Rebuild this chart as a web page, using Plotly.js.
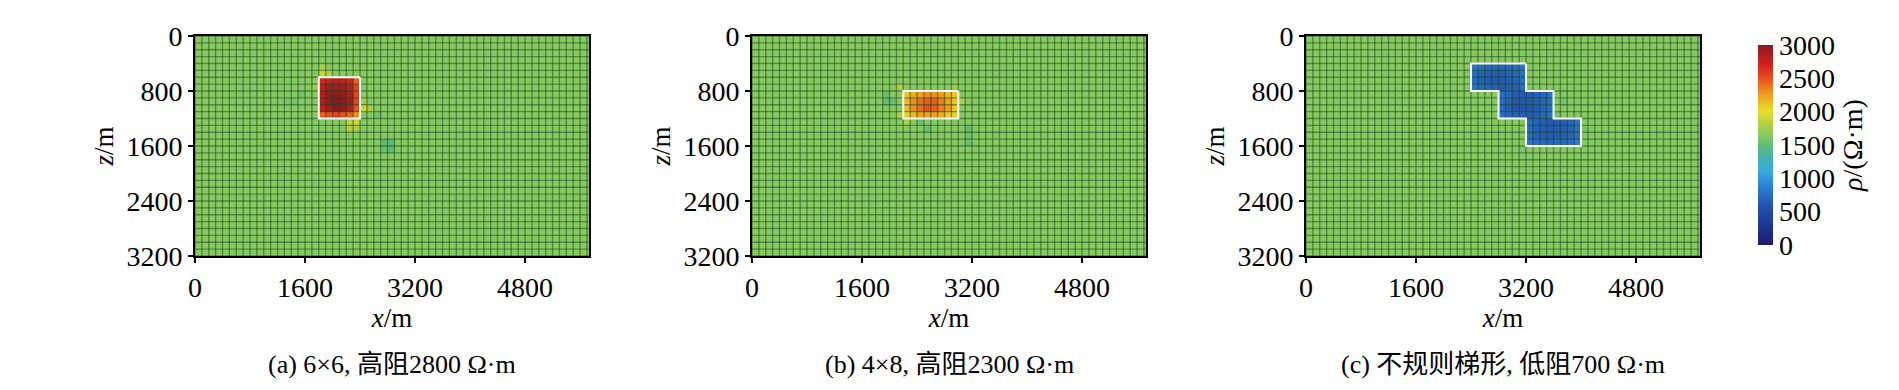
<!DOCTYPE html>
<html>
<head>
<meta charset="utf-8">
<script src="https://cdn.plot.ly/plotly-3.0.1.min.js"></script>
<style>html,body{margin:0;padding:0;background:#fff;}#chart{width:1899px;height:390px;}</style>
</head>
<body>
<div id="chart"></div>
<script>
// ---------------- data ----------------
const xTicks = [0, 1600, 3200, 4800];
const zTicks = [0, 800, 1600, 2400, 3200];
const cbTicks = [0, 500, 1000, 1500, 2000, 2500, 3000];
const captions = ["(a) 6×6, 高阻2800 Ω·m", "(b) 4×8, 高阻2300 Ω·m", "(c) 不规则梯形, 低阻700 Ω·m"];

// background resistivity of each inverted model (Ω·m)
const background = [1650, 1650, 1650];

// (a) high-resistivity block 6×6 cells: top z = 600 m, row starts at x = 1800 m
const blockA_rowZ = [600, 700, 800, 900, 1000, 1100];
const blockA_rowX = [1800, 1800, 1800, 1800, 1800, 1800];
const blockA_vals = [
  [2700, 2750, 2800, 2750, 2700, 2450],
  [2800, 2900, 2900, 2900, 2800, 2550],
  [2850, 2950, 3000, 2950, 2850, 2550],
  [2850, 2950, 3000, 3000, 2900, 2550],
  [2800, 2900, 3000, 2950, 2850, 2500],
  [2450, 2500, 2550, 2500, 2450, 2300]
];
// (b) high-resistivity block 4×8 cells
const blockB_rowZ = [800, 900, 1000, 1100];
const blockB_rowX = [2200, 2200, 2200, 2200];
const blockB_vals = [
  [2100, 2200, 2250, 2300, 2300, 2250, 2150, 2100],
  [2150, 2300, 2400, 2450, 2450, 2350, 2250, 2100],
  [2150, 2300, 2400, 2500, 2450, 2350, 2250, 2100],
  [2050, 2150, 2250, 2250, 2250, 2200, 2100, 2050]
];
// (c) low-resistivity irregular staircase body
const blockC_rowZ = [400, 500, 600, 700, 800, 900, 1000, 1100, 1200, 1300, 1400, 1500];
const blockC_rowX = [2400, 2400, 2400, 2400, 2800, 2800, 2800, 2800, 3200, 3200, 3200, 3200];
const blockC_vals = [
  [800, 750, 720, 700, 700, 720, 750, 800],
  [750, 680, 650, 640, 650, 680, 700, 760],
  [740, 670, 640, 630, 640, 660, 690, 750],
  [780, 720, 700, 680, 650, 660, 700, 760],
  [760, 700, 660, 640, 640, 660, 700, 780],
  [740, 660, 620, 610, 620, 650, 690, 760],
  [740, 660, 620, 610, 630, 660, 700, 760],
  [780, 720, 680, 660, 650, 660, 700, 780],
  [760, 700, 670, 650, 650, 670, 700, 780],
  [740, 670, 640, 630, 630, 650, 690, 760],
  [740, 680, 650, 640, 640, 660, 700, 770],
  [800, 760, 730, 720, 720, 730, 760, 820]
];
// small deviations of the background around the bodies: cell x, cell z, value
const haloA_x = [1800, 1800, 1900, 2200, 2300, 2200, 2300, 2400, 2500, 2400, 1700, 2700, 2800, 2800, 2700, 1500, 1400, 2600, 1300];
const haloA_z = [400, 500, 500, 1200, 1200, 1300, 1300, 1000, 1000, 900, 700, 1500, 1500, 1600, 1600, 800, 900, 1100, 900];
const haloA_v = [1800, 1900, 1800, 1850, 1900, 1800, 1780, 1900, 1780, 1780, 1730, 1500, 1480, 1500, 1540, 1580, 1580, 1580, 1600];
const haloB_x = [2100, 2100, 3000, 1900, 1900, 2000, 2400, 2500, 3100, 3100, 3100, 2200, 2900];
const haloB_z = [700, 1100, 900, 800, 900, 900, 1200, 1300, 1300, 1400, 1500, 1200, 700];
const haloB_v = [1800, 1780, 1780, 1540, 1500, 1540, 1540, 1540, 1500, 1540, 1540, 1780, 1730];
const haloC_x = [3700, 3600, 2300, 4000, 3100];
const haloC_z = [900, 1100, 500, 1300, 1600];
const haloC_v = [1580, 1580, 1610, 1600, 1600];

// ---------------- construction ----------------
const CELL = 100, NX = 58, NZ = 32;
const xEdges = [], zEdges = [];
for (let i = 0; i <= NX; i++) xEdges.push(i * CELL);
for (let j = 0; j <= NZ; j++) zEdges.push(j * CELL);

function buildZ(bg, rowZ, rowX, vals, hx, hz, hv) {
  const z = [];
  for (let j = 0; j < NZ; j++) { const r = []; for (let i = 0; i < NX; i++) r.push(bg); z.push(r); }
  for (let k = 0; k < hx.length; k++) z[hz[k] / CELL][hx[k] / CELL] = hv[k];
  for (let r = 0; r < rowZ.length; r++) {
    for (let c = 0; c < vals[r].length; c++) z[rowZ[r] / CELL][rowX[r] / CELL + c] = vals[r][c];
  }
  return z;
}
function outline(rowZ, rowX, vals) {
  const xs = [], ys = [];
  for (let r = 0; r < rowZ.length; r++) {
    const x1 = rowX[r] + vals[r].length * CELL;
    xs.push(x1, x1); ys.push(rowZ[r], rowZ[r] + CELL);
  }
  for (let r = rowZ.length - 1; r >= 0; r--) {
    xs.push(rowX[r], rowX[r]); ys.push(rowZ[r] + CELL, rowZ[r]);
  }
  xs.push(xs[0]); ys.push(ys[0]);
  return {x: xs, y: ys};
}
function gridLines() {
  const xs = [], ys = [];
  for (const e of xEdges) { xs.push(e, e, null); ys.push(0, 3200, null); }
  for (const e of zEdges) { xs.push(0, 5800, null); ys.push(e, e, null); }
  return {x: xs, y: ys};
}

const colorscale = [
  [0.00, '#1c1c6a'], [0.10, '#1f3792'], [0.20, '#2453b0'], [0.30, '#2a86d6'],
  [0.37, '#38aae0'], [0.45, '#4ab4a2'], [0.50, '#62bc74'], [0.55, '#88ca62'], [0.60, '#aed044'],
  [0.67, '#e6dc2a'], [0.75, '#f0a020'], [0.83, '#e8521e'], [0.90, '#d2221e'], [1.00, '#8a1a1e']
];

const panels = [
  {rz: blockA_rowZ, rx: blockA_rowX, v: blockA_vals, hx: haloA_x, hz: haloA_z, hv: haloA_v},
  {rz: blockB_rowZ, rx: blockB_rowX, v: blockB_vals, hx: haloB_x, hz: haloB_z, hv: haloB_v},
  {rz: blockC_rowZ, rx: blockC_rowX, v: blockC_vals, hx: haloC_x, hz: haloC_z, hv: haloC_v}
];
const W = 1899, H = 390;
const xDomains = [[195 / W, 589 / W], [752 / W, 1146 / W], [1306 / W, 1700 / W]];
const yDomain = [1 - 256 / H, 1 - 36 / H];
const FONT = 'Liberation Serif, Times New Roman, serif';
const CJKFONT = 'Liberation Serif, Noto Sans CJK SC, serif';

const traces = [];
const layout = {
  width: W, height: H, margin: {l: 0, r: 0, t: 0, b: 0},
  paper_bgcolor: '#fff', plot_bgcolor: '#fff', showlegend: false,
  font: {family: FONT, size: 28, color: '#000'}, annotations: []
};
const g = gridLines();
panels.forEach((p, k) => {
  const xa = k === 0 ? 'x' : 'x' + (k + 1), ya = k === 0 ? 'y' : 'y' + (k + 1);
  const hm = {
    type: 'heatmap', x: xEdges, y: zEdges, z: buildZ(background[k], p.rz, p.rx, p.v, p.hx, p.hz, p.hv),
    zmin: 0, zmax: 3000, colorscale: colorscale, xaxis: xa, yaxis: ya, showscale: k === 0, hoverinfo: 'skip'
  };
  if (k === 0) {
    hm.colorbar = {
      x: 1758 / W, xanchor: 'left', y: 1 - 145 / H, yanchor: 'middle', len: 200, lenmode: 'pixels',
      thickness: 15, xpad: 0, ypad: 0, outlinewidth: 0, ticks: '', tickvals: cbTicks,
      tickfont: {family: FONT, size: 28}, title: {text: '<i>ρ</i>/(Ω·m)', side: 'right', font: {family: FONT, size: 28}}
    };
  }
  traces.push(hm);
  traces.push({type: 'scatter', mode: 'lines', x: g.x, y: g.y, xaxis: xa, yaxis: ya, hoverinfo: 'skip',
    line: {color: 'rgba(25,70,25,0.5)', width: 1.4}});
  const o = outline(p.rz, p.rx, p.v);
  traces.push({type: 'scatter', mode: 'lines', x: o.x, y: o.y, xaxis: xa, yaxis: ya, hoverinfo: 'skip',
    line: {color: '#ffffff', width: 2}});
  const axCommon = {showline: true, mirror: true, linewidth: 2, linecolor: '#000', ticks: 'outside', ticklen: 5,
    tickwidth: 2, tickcolor: '#000', showgrid: false, zeroline: false, tickfont: {family: FONT, size: 28}};
  layout['xaxis' + (k === 0 ? '' : k + 1)] = Object.assign({}, axCommon, {
    domain: xDomains[k], anchor: ya, range: [0, 5730], tickvals: xTicks, ticktext: xTicks.map(String),
    title: {text: '<i>x</i>/m', font: {family: FONT, size: 27}, standoff: 5}
  });
  layout['yaxis' + (k === 0 ? '' : k + 1)] = Object.assign({}, axCommon, {
    domain: yDomain, anchor: xa, range: [3200, 0], tickvals: zTicks, ticktext: zTicks.map(String),
    title: {text: '<i>z</i>/m', font: {family: FONT, size: 27}, standoff: 5}
  });
  layout.annotations.push({
    text: captions[k], xref: 'paper', yref: 'paper', x: (xDomains[k][0] + xDomains[k][1]) / 2, y: 1 - 364 / H,
    xanchor: 'center', yanchor: 'middle', showarrow: false, font: {family: CJKFONT, size: 26, color: '#000'}
  });
});

Plotly.newPlot('chart', traces, layout, {staticPlot: true, displayModeBar: false});
</script>
</body>
</html>
